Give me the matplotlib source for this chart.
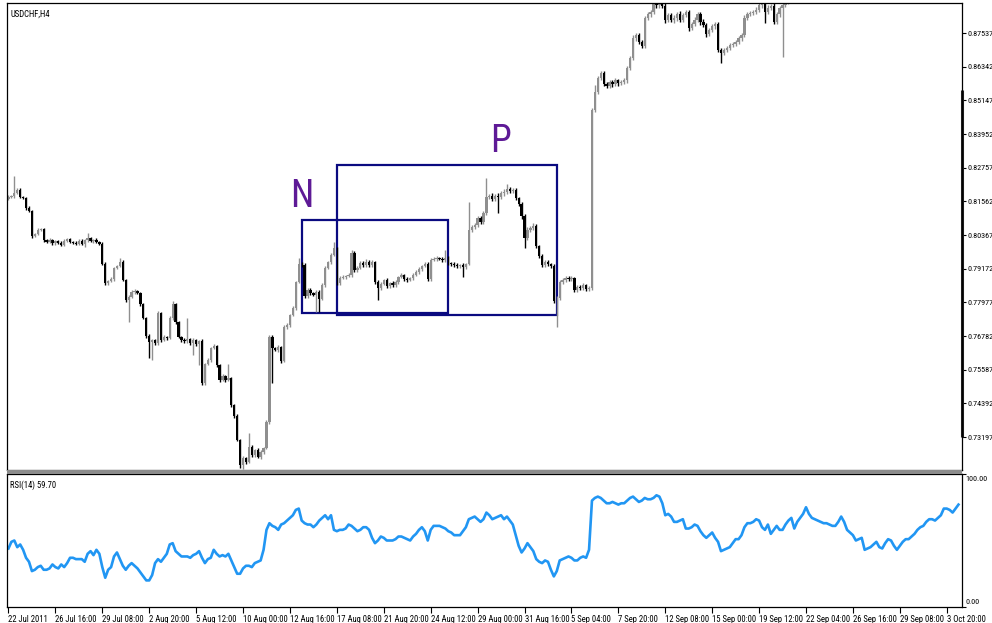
import numpy as np
import matplotlib
matplotlib.use('Agg')
import matplotlib.pyplot as plt
from matplotlib import font_manager
from matplotlib.patches import Rectangle
from matplotlib.transforms import blended_transform_factory

# H4 closes, USDCHF (bar 0 = 22 Jul 2011)
closes = [
    0.8172, 0.8175, 0.8186, 0.8197, 0.8172, 0.8168, 0.8133, 0.8122, 0.8033, 0.8040,
    0.8055, 0.8058, 0.8019, 0.8012, 0.8020, 0.8008, 0.8015, 0.8010, 0.8003, 0.8015,
    0.8022, 0.8012, 0.8010, 0.8006, 0.8016, 0.8005, 0.8018, 0.8025, 0.8015, 0.8020,
    0.8012, 0.8005, 0.7935, 0.7866, 0.7873, 0.7880, 0.7920, 0.7927, 0.7941, 0.7877,
    0.7806, 0.7817, 0.7835, 0.7838, 0.7831, 0.7792, 0.7742, 0.7678, 0.7657, 0.7664,
    0.7653, 0.7760, 0.7664, 0.7675, 0.7671, 0.7742, 0.7792, 0.7728, 0.7675, 0.7664,
    0.7660, 0.7668, 0.7653, 0.7664, 0.7650, 0.7660, 0.7511, 0.7579, 0.7593, 0.7636,
    0.7643, 0.7575, 0.7522, 0.7536, 0.7522, 0.7529, 0.7433, 0.7395, 0.7309, 0.7220,
    0.7245, 0.7231, 0.7284, 0.7256, 0.7274, 0.7249, 0.7267, 0.7281, 0.7373, 0.7675,
    0.7636, 0.7629, 0.7640, 0.7590, 0.7710, 0.7717, 0.7753, 0.7778, 0.7870, 0.7934,
    0.7930, 0.7820, 0.7842, 0.7831, 0.7824, 0.7835, 0.7810, 0.7860, 0.7920, 0.7941,
    0.7966, 0.7991, 0.7866, 0.7884, 0.7888, 0.7891, 0.7895, 0.7973, 0.7913, 0.7920,
    0.7937, 0.7930, 0.7941, 0.7930, 0.7941, 0.7870, 0.7849, 0.7863, 0.7877, 0.7856,
    0.7866, 0.7859, 0.7870, 0.7888, 0.7895, 0.7881, 0.7877, 0.7884, 0.7895, 0.7906,
    0.7916, 0.7927, 0.7934, 0.7881, 0.7948, 0.7952, 0.7955, 0.7952, 0.7948, 0.7955,
    0.7937, 0.7934, 0.7930, 0.7927, 0.7930, 0.7923, 0.7934, 0.8055, 0.8065, 0.8072,
    0.8097, 0.8083, 0.8115, 0.8172, 0.8175, 0.8165, 0.8175, 0.8172, 0.8186, 0.8190,
    0.8200, 0.8193, 0.8197, 0.8168, 0.8147, 0.8104, 0.8026, 0.8055, 0.8062, 0.8069,
    0.7998, 0.7962, 0.7930, 0.7941, 0.7934, 0.7927, 0.7802, 0.7813, 0.7870, 0.7877,
    0.7884, 0.7881, 0.7884, 0.7842, 0.7852, 0.7849, 0.7859, 0.7845, 0.7849, 0.8481,
    0.8545, 0.8594, 0.8612, 0.8573, 0.8566, 0.8580, 0.8573, 0.8587, 0.8576, 0.8580,
    0.8587, 0.8630, 0.8665, 0.8736, 0.8747, 0.8722, 0.8708, 0.8807, 0.8821, 0.8828,
    0.8857, 0.8853, 0.8860, 0.8850, 0.8800, 0.8818, 0.8800, 0.8807, 0.8821, 0.8800,
    0.8818, 0.8828, 0.8772, 0.8786, 0.8800, 0.8821, 0.8793, 0.8782, 0.8750, 0.8765,
    0.8779, 0.8786, 0.8694, 0.8683, 0.8694, 0.8701, 0.8711, 0.8715, 0.8722, 0.8736,
    0.8747, 0.8807, 0.8821, 0.8825, 0.8828, 0.8836, 0.8853, 0.8857, 0.8828, 0.8843,
    0.8850, 0.8793, 0.8821, 0.8843, 0.8853, 0.8864, 0.8871,
]
first_open = 0.8165

# wick lengths above / below the body, in pips
wick_up = [
    6, 5, 60, 8, 5, 4, 5, 6, 4, 5,
    5, 4, 4, 5, 6, 4, 5, 4, 5, 6,
    5, 4, 5, 4, 5, 6, 5, 20, 5, 4,
    5, 4, 6, 5, 4, 6, 5, 4, 14, 6,
    5, 8, 5, 6, 4, 5, 4, 5, 6, 4,
    5, 8, 5, 6, 4, 6, 11, 5, 4, 5,
    6, 74, 5, 6, 4, 5, 6, 5, 6, 5,
    6, 4, 5, 8, 5, 50, 5, 4, 5, 4,
    6, 5, 50, 6, 5, 7, 6, 5, 6, 7,
    6, 5, 8, 4, 6, 7, 5, 6, 5, 21,
    8, 6, 5, 7, 5, 6, 5, 6, 7, 5,
    6, 21, 5, 6, 7, 5, 6, 11, 6, 7,
    8, 6, 10, 6, 7, 5, 6, 7, 5, 6,
    5, 6, 7, 5, 6, 5, 6, 5, 6, 7,
    6, 5, 7, 6, 8, 6, 7, 5, 6, 29,
    6, 5, 7, 6, 5, 6, 5, 99, 8, 6,
    7, 6, 8, 67, 9, 12, 8, 10, 7, 9,
    18, 8, 7, 6, 5, 6, 7, 10, 8, 12,
    6, 5, 7, 6, 8, 5, 6, 7, 8, 6,
    7, 6, 8, 5, 6, 7, 6, 5, 6, 8,
    24, 8, 6, 7, 6, 8, 6, 7, 5, 6,
    7, 8, 6, 9, 7, 6, 7, 8, 9, 7,
    8, 7, 9, 8, 10, 8, 7, 9, 8, 10,
    8, 9, 7, 8, 10, 8, 7, 9, 8, 7,
    8, 7, 6, 8, 7, 6, 8, 7, 6, 8,
    7, 9, 8, 7, 8, 10, 9, 8, 7, 9,
    8, 10, 9, 8, 9, 8, 10,
]
wick_dn = [
    4, 5, 6, 5, 4, 5, 6, 5, 6, 5,
    4, 5, 6, 5, 4, 6, 5, 4, 6, 5,
    4, 5, 6, 5, 4, 5, 12, 5, 4, 6,
    5, 4, 5, 6, 5, 4, 6, 5, 4, 5,
    6, 78, 5, 6, 5, 6, 5, 6, 57, 64,
    6, 5, 6, 5, 7, 5, 6, 7, 5, 6,
    5, 6, 5, 43, 6, 75, 6, 7, 5, 6,
    5, 6, 7, 5, 6, 5, 6, 7, 5, 10,
    13, 6, 5, 7, 6, 5, 7, 6, 5, 6,
    124, 5, 6, 7, 5, 6, 7, 5, 6, 5,
    6, 5, 7, 6, 5, 60, 46, 5, 6, 5,
    6, 5, 7, 6, 5, 6, 5, 6, 7, 6,
    5, 6, 7, 5, 6, 7, 43, 6, 5, 7,
    6, 5, 7, 6, 5, 6, 7, 5, 6, 5,
    6, 7, 5, 6, 7, 5, 6, 5, 6, 7,
    5, 6, 5, 7, 6, 35, 6, 5, 7, 6,
    6, 8, 7, 6, 9, 8, 7, 57, 8, 10,
    7, 8, 6, 7, 8, 9, 35, 7, 8, 9,
    7, 6, 8, 7, 6, 8, 7, 92, 8, 7,
    6, 7, 8, 6, 7, 8, 6, 7, 8, 6,
    8, 7, 8, 9, 7, 8, 10, 8, 9, 7,
    8, 9, 7, 8, 10, 8, 9, 7, 8, 9,
    8, 9, 10, 8, 12, 9, 8, 10, 9, 8,
    9, 8, 10, 9, 8, 9, 10, 8, 9, 8,
    9, 10, 8, 36, 9, 8, 7, 8, 9, 8,
    9, 8, 7, 8, 9, 8, 9, 10, 38, 8,
    9, 8, 7, 9, 174, 8, 9,
]

rsi = [
    44, 49, 50, 45, 47, 43, 37, 34, 27, 28,
    30, 31, 28, 28, 29, 32, 30, 29, 32, 30,
    33, 37, 37, 36, 36, 36, 34, 40, 42, 39,
    43, 40, 30, 22, 28, 30, 38, 41, 36, 31,
    28, 31, 33, 31, 29, 26, 23, 20, 20, 24,
    33, 36, 34, 37, 40, 47, 48, 42, 40, 38,
    38, 38, 37, 39, 40, 42, 37, 33, 36, 37,
    43, 40, 38, 39, 38, 40, 35, 30, 25, 25,
    29, 31, 31, 30, 33, 34, 35, 43, 58, 63,
    61, 60, 58, 62, 63, 65, 67, 69, 73, 74,
    65, 63, 62, 62, 60, 62, 65, 67, 69, 66,
    69, 58, 57, 58, 58, 59, 62, 61, 59, 57,
    58, 60, 60, 58, 52, 48, 50, 53, 52, 50,
    50, 50, 51, 53, 53, 52, 51, 50, 53, 55,
    58, 60, 57, 50, 58, 61, 61, 61, 60, 59,
    57, 56, 54, 54, 54, 57, 60, 66, 67, 68,
    66, 64, 66, 71, 69, 66, 67, 68, 69, 66,
    68, 65, 62, 54, 46, 41, 44, 48, 45, 42,
    36, 34, 33, 35, 34, 28, 23, 27, 35, 36,
    37, 38, 37, 35, 35, 37, 38, 37, 43, 80,
    82, 83, 82, 80, 78, 78, 79, 78, 77, 78,
    78, 80, 82, 83, 81, 79, 80, 82, 81, 81,
    82, 84, 83, 78, 69, 70, 68, 64, 64, 65,
    66, 59, 59, 60, 62, 61, 57, 54, 52, 54,
    56, 52, 49, 42, 43, 44, 45, 48, 51, 51,
    54, 60, 63, 63, 64, 66, 65, 60, 58, 62,
    55, 58, 61, 58, 58, 62, 65, 67, 59, 64,
    67, 70, 75, 70, 67, 66, 65, 64, 63, 63,
    62, 61, 61, 64, 68, 64, 58, 56, 54, 50,
    51, 52, 43, 44, 45, 47, 49, 45, 44, 48,
    51, 50, 46, 43, 46, 49, 51, 51, 53, 55,
    58, 60, 61, 64, 66, 66, 65, 67, 69, 74,
    74, 73, 71, 74, 77,
]

date_labels = ["22 Jul 2011", "26 Jul 16:00", "29 Jul 08:00", "2 Aug 20:00",
               "5 Aug 12:00", "10 Aug 00:00", "12 Aug 16:00", "17 Aug 08:00",
               "21 Aug 20:00", "24 Aug 12:00", "29 Aug 00:00", "31 Aug 16:00",
               "5 Sep 04:00", "7 Sep 20:00", "12 Sep 08:00", "15 Sep 00:00",
               "19 Sep 12:00", "22 Sep 04:00", "26 Sep 16:00", "29 Sep 08:00",
               "3 Oct 20:00"]
price_ticks = [0.87537, 0.86342, 0.85147, 0.83952, 0.82757, 0.81562, 0.80367,
               0.79172, 0.77977, 0.76782, 0.75587, 0.74392, 0.73197]

# rectangles: (bar from, bar to, price low, price high)
rect_n = (100, 150, 0.7761, 0.8090)
rect_p = (112, 187, 0.7752, 0.8286)
# labels: (text, bar, price)
marks = [("N", 100.1, 0.8172), ("P", 167.9, 0.8370)]

# narrow font if one is installed, the screenshot text is condensed
fonts = font_manager.fontManager.ttflist
names = {f.name for f in fonts}
stretch = 'normal'
if 'Liberation Sans Narrow' in names:
    family = 'Liberation Sans Narrow'
elif 'Roboto Condensed' in names:
    family = 'Roboto Condensed'
elif any(f.name == 'DejaVu Sans' and 'ondensed' in str(f.stretch) for f in fonts):
    family, stretch = 'DejaVu Sans', 'condensed'
else:
    family = 'Liberation Sans'
narrow = family != 'Liberation Sans'
plt.rcParams['font.family'] = [family, 'DejaVu Sans']
plt.rcParams['font.stretch'] = stretch
fs = 6.2 if narrow else 5.4
fs_price = 5.9 if narrow else 5.2

W, H = 992, 623
fig = plt.figure(figsize=(W / 100, H / 100), dpi=100)
fig.patch.set_facecolor('white')

def fig_box(x0, y0, x1, y1):
    return [x0 / W, 1 - y1 / H, (x1 - x0) / W, (y1 - y0) / H]

ax = fig.add_axes(fig_box(7, 3, 962, 470))
ax2 = fig.add_axes(fig_box(7, 474, 962, 607))

# gray separator between panes
fig.patches.append(Rectangle((7 / W, 1 - 474 / H), 955 / W, 4 / H,
                             transform=fig.transFigure, color='#8c8c8c', lw=0))

# candles
c = np.array(closes)
o = np.concatenate([[first_open], c[:-1]])
top = np.maximum(o, c)
bot = np.minimum(o, c)
hi = top + np.array(wick_up) * 1e-4
lo = bot - np.array(wick_dn) * 1e-4
x = np.arange(len(c))
bull = c >= o
cols = np.where(bull, '#8f8f8f', '#000000')
ax.vlines(x, lo, hi, colors=cols, lw=1.0)
ax.bar(x, np.maximum(top - bot, 0.00028), bottom=bot, width=0.78,
       color=cols, lw=0)

for r in (rect_n, rect_p):
    ax.add_patch(Rectangle((r[0], r[2]), r[1] - r[0], r[3] - r[2],
                           fill=False, ec='#0a0a80', lw=1.6))
for t, bx, py in marks:
    ax.text(bx, py, t, color='#5e1a96', fontsize=27 if narrow else 22,
            ha='center', va='center')

ax.set_xlim(-0.5, 325.2)
ax.set_ylim(0.72028, 0.88602)
ax.yaxis.tick_right()
ax.set_yticks(price_ticks)
ax.set_yticklabels(['%.5f' % p for p in price_ticks])
ax.tick_params(axis='y', direction='out', length=3, width=0.8, pad=1,
               labelsize=fs_price, colors='black')
ax.set_xticks([])
for s in ax.spines.values():
    s.set_linewidth(0.9)
ax.text(0.004, 0.985, "USDCHF,H4", transform=ax.transAxes, fontsize=fs,
        ha='left', va='top')

# thick marker on the price scale
tr = blended_transform_factory(ax.transAxes, ax.transData)
ax.plot([1.0, 1.0], [0.8553, 0.73197], transform=tr, color='#202020',
        lw=2.2, clip_on=False, solid_capstyle='butt')

# RSI pane
ax2.plot(np.arange(len(rsi)), rsi, color='#2196f3', lw=1.9)
ax2.set_xlim(-0.5, 325.2)
ax2.set_ylim(0, 100)
ax2.yaxis.tick_right()
ax2.set_yticks([0, 100])
ax2.set_yticklabels([])
ax2.tick_params(axis='y', direction='out', length=3, width=0.8)
ax2.text(1.004, 0.985, "100.00", transform=ax2.transAxes, fontsize=fs_price,
         ha='left', va='top')
ax2.text(1.004, 0.015, "0.00", transform=ax2.transAxes, fontsize=fs_price,
         ha='left', va='bottom')
ax2.text(0.003, 0.95, "RSI(14) 59.70", transform=ax2.transAxes, fontsize=fs,
         ha='left', va='top')
ax2.set_xticks(range(0, 16 * len(date_labels), 16))
ax2.set_xticklabels(date_labels, ha='left')
ax2.tick_params(axis='x', direction='out', length=4, width=0.8, pad=1.5,
                labelsize=fs)
for s in ax2.spines.values():
    s.set_linewidth(0.9)

fig.savefig('out.png', dpi=100)
